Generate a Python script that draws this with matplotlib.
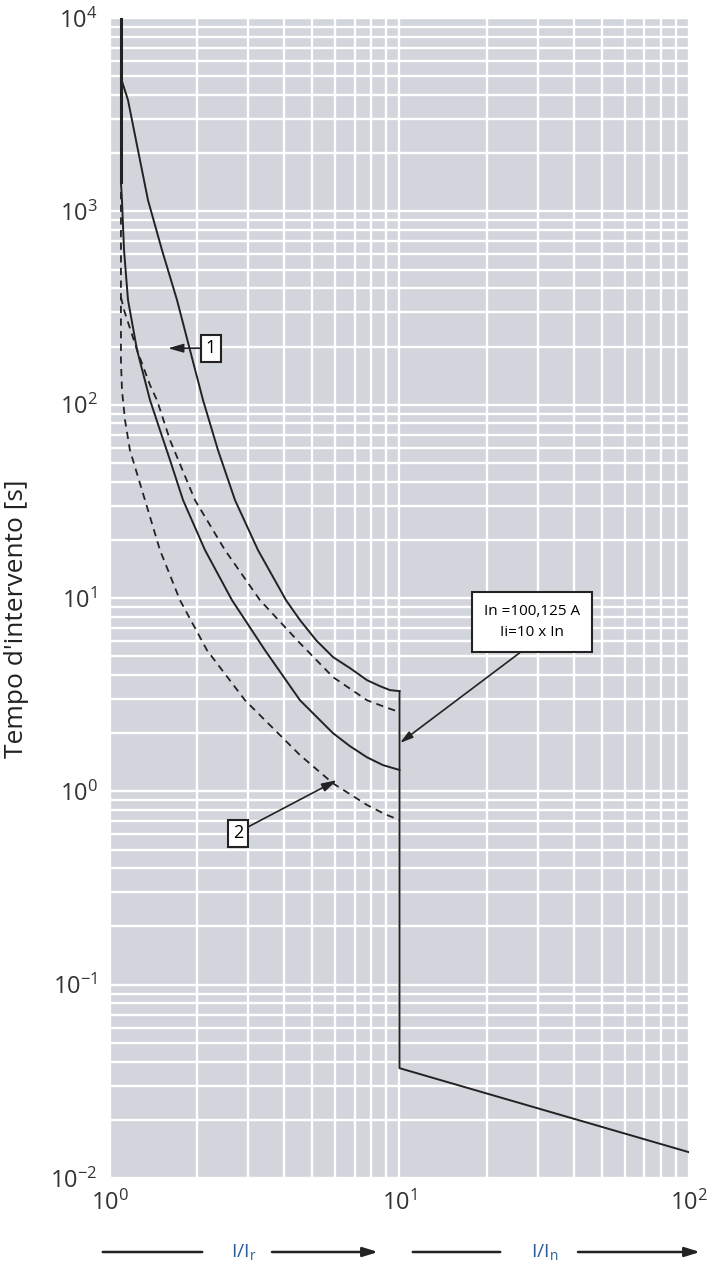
import numpy as np
import matplotlib
matplotlib.use("Agg")
import matplotlib.pyplot as plt
from matplotlib.ticker import FixedLocator, FuncFormatter, LogLocator

plt.rcParams['font.family'] = ['Open Sans', 'DejaVu Sans']
plt.rcParams['mathtext.fontset'] = 'custom'
plt.rcParams['mathtext.rm'] = 'Open Sans'
plt.rcParams['mathtext.it'] = 'Open Sans'

# vertical start at x ~ 1.09 (solid part)
x_start = [1.091, 1.091]
y_start = [10000, 1418]

# curve 1: upper solid
x_up = [1.091, 1.154, 1.249, 1.353, 1.512, 1.704, 1.889, 2.096, 2.361, 2.703, 3.245,
        4.055, 4.532, 5.148, 5.892, 6.745, 7.725, 8.564, 9.27, 10.0]
y_up = [4894, 3765, 2077, 1143, 631, 348, 192, 105.6, 58.2, 32.1, 17.7,
        9.75, 7.69, 6.06, 4.95, 4.34, 3.76, 3.50, 3.34, 3.30]

# curve 1: lower solid
x_lo = [1.091, 1.100, 1.118, 1.154, 1.240, 1.375, 1.488, 1.612, 1.788, 2.129, 2.639,
        3.431, 4.532, 5.892, 6.745, 7.725, 8.770, 10.0]
y_lo = [1418, 1143, 631, 348, 192, 105.6, 73.9, 51.7, 32.1, 17.7, 9.75,
        5.37, 2.96, 2.00, 1.713, 1.50, 1.367, 1.29]

# curve 2: upper dashed
x_dup = [1.091, 1.118, 1.240, 1.375, 1.453, 1.612, 1.966, 2.496, 3.297, 4.532,
         5.892, 7.725, 8.911, 10.0]
y_dup = [360, 308.7, 192, 126.3, 105.6, 65.6, 32.1, 17.7, 9.75, 5.84,
         3.90, 2.96, 2.73, 2.57]

# curve 2: lower dashed (starts vertical)
x_dlo = [1.091, 1.091, 1.100, 1.127, 1.172, 1.321, 1.488, 1.745, 2.163, 2.927,
         4.532, 5.892, 7.725, 8.911, 10.0]
y_dlo = [1259, 170.2, 118.9, 83.2, 58.2, 32.1, 17.7, 9.75, 5.37, 2.96,
         1.54, 1.10, 0.85, 0.762, 0.71]

# instantaneous trip
x_inst = [10.0, 10.0, 100.0]
y_inst = [3.30, 0.037, 0.0136]

fig = plt.figure(figsize=(7.11, 12.63), dpi=100)
ax = fig.add_axes([0.1547, 0.0673, 0.969 - 0.1547, 0.9857 - 0.0673])
ax.set_facecolor('#d3d5dc')
ax.set_xscale('log')
ax.set_yscale('log')
ax.set_xlim(1, 100)
ax.set_ylim(0.01, 10000)

ax.xaxis.set_major_locator(FixedLocator([1, 10, 100]))
ax.yaxis.set_major_locator(FixedLocator([0.01, 0.1, 1, 10, 100, 1000, 10000]))
ax.xaxis.set_minor_locator(LogLocator(base=10, subs=np.arange(2, 10)))
ax.yaxis.set_minor_locator(LogLocator(base=10, subs=np.arange(2, 10)))
ax.xaxis.set_minor_formatter(FuncFormatter(lambda v, p: ''))
ax.yaxis.set_minor_formatter(FuncFormatter(lambda v, p: ''))
fmt = FuncFormatter(lambda v, p: r'$\mathregular{10^{%d}}$' % int(round(np.log10(v))))
ax.xaxis.set_major_formatter(fmt)
ax.yaxis.set_major_formatter(fmt)
ax.grid(which='both', color='white', lw=1.7)
ax.set_axisbelow(True)
for s in ax.spines.values():
    s.set_visible(False)
ax.tick_params(which='both', length=0)
ax.tick_params(axis='y', labelsize=17, pad=9, labelcolor='#333333')
ax.tick_params(axis='x', labelsize=17, pad=9, labelcolor='#333333')

lc = '#222222'
ax.plot(x_start, y_start, c=lc, lw=2.2)
ax.plot(x_up, y_up, c=lc, lw=1.4)
ax.plot(x_lo, y_lo, c=lc, lw=1.4)
ax.plot(x_dup, y_dup, c=lc, lw=1.3, ls=(0, (4, 3)))
ax.plot(x_dlo, y_dlo, c=lc, lw=1.3, ls=(0, (4, 3)))
ax.plot(x_inst, y_inst, c=lc, lw=1.4)

ax.set_ylabel("Tempo d'intervento [s]", fontsize=19, color='#222222')
ax.yaxis.set_label_coords(-0.14, 0.482)

arr = dict(arrowstyle='-|>,head_length=0.7,head_width=0.2', color=lc, lw=1.2,
           shrinkA=0, shrinkB=0)
box = dict(boxstyle='square,pad=0.25', fc='white', ec=lc, lw=1.5)

ax.annotate('1', xy=(1.586, 196), xytext=(2.233, 196), fontsize=13,
            ha='center', va='center', bbox=box,
            arrowprops=dict(arr, relpos=(0, 0.5)))
ax.annotate('2', xy=(6.085, 1.143), xytext=(2.768, 0.608), fontsize=13,
            ha='center', va='center', bbox=box,
            arrowprops=dict(arr, relpos=(1, 0.7)))
ax.annotate('In =100,125 A\nIi=10 x In', xy=(10.04, 1.78), xytext=(28.7, 7.5),
            fontsize=11, ha='center', va='center', linespacing=1.5,
            bbox=dict(boxstyle='square,pad=0.8', fc='white', ec=lc, lw=1.5),
            arrowprops=dict(arr, relpos=(0.55, 0)))

# bottom current-ratio arrows
yb = 1 - 1252 / 1263
blue = '#2a5d9a'
line_kw = dict(xycoords='figure fraction', textcoords='figure fraction')
ax.annotate('', xy=(205 / 711, yb), xytext=(100 / 711, yb),
            arrowprops=dict(arrowstyle='-', color=lc, lw=1.8), **line_kw)
ax.annotate('', xy=(378 / 711, yb), xytext=(272 / 711, yb),
            arrowprops=dict(arrowstyle='-|>,head_length=0.9,head_width=0.28', color=lc, lw=1.8,
                            shrinkA=0, shrinkB=0), **line_kw)
ax.annotate('', xy=(503 / 711, yb), xytext=(410 / 711, yb),
            arrowprops=dict(arrowstyle='-', color=lc, lw=1.8), **line_kw)
ax.annotate('', xy=(700 / 711, yb), xytext=(578 / 711, yb),
            arrowprops=dict(arrowstyle='-|>,head_length=0.9,head_width=0.28', color=lc, lw=1.8,
                            shrinkA=0, shrinkB=0), **line_kw)
fig.text(244 / 711, yb, r'I/I$_\mathregular{r}$', fontsize=14, color=blue, ha='center', va='center')
fig.text(545 / 711, yb, r'I/I$_\mathregular{n}$', fontsize=14, color=blue, ha='center', va='center')

fig.savefig('out.png', dpi=100)
